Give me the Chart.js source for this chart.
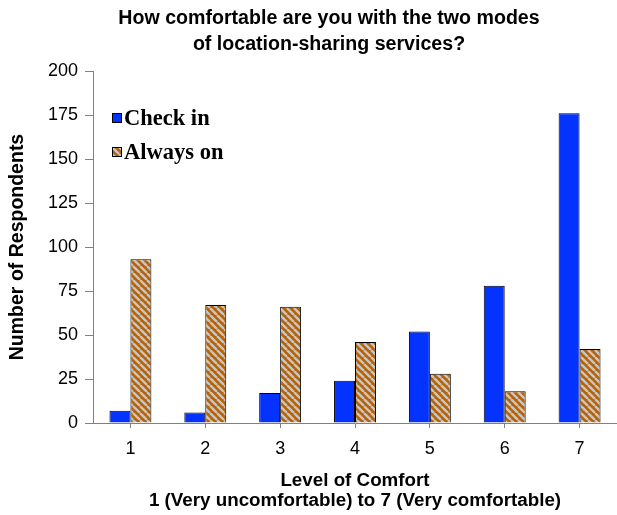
<!DOCTYPE html>
<html>
<head>
<meta charset="utf-8">
<style>
  html, body { margin: 0; padding: 0; background: #fff; }
</style>
<script src="https://cdn.jsdelivr.net/npm/chart.js@4"></script>
</head>
<body>
<canvas id="comfortChart" width="617" height="515"></canvas>
<script>
const comfortLevels = ["1", "2", "3", "4", "5", "6", "7"];
const checkInCounts = [7, 6, 17, 24, 52, 78, 176];
const alwaysOnCounts = [93, 67, 66, 46, 28, 18, 42];
const seriesNames = ["Check in", "Always on"];
const chartTitle = ["How comfortable are you with the two modes", "of location-sharing services?"];
const xTitle = ["Level of Comfort", "1 (Very uncomfortable) to 7 (Very comfortable)"];
const yTitle = "Number of Respondents";

const canvas = document.getElementById("comfortChart");
const ctx = canvas.getContext("2d");

// orange / grey diagonal hatch for the "Always on" bars
function stripes() {
  const n = 7;
  const tile = document.createElement("canvas");
  tile.width = n;
  tile.height = n;
  const g = tile.getContext("2d");
  g.fillStyle = "#b5620a";
  g.fillRect(0, 0, n, n);
  g.strokeStyle = "#c9c6c0";
  g.lineWidth = 2.4;
  g.beginPath();
  for (let k = -n; k <= n; k += n) {
    g.moveTo(k, 0);
    g.lineTo(k + n, n);
  }
  g.stroke();
  return ctx.createPattern(tile, "repeat");
}

const titlePlugin = {
  id: "twoLineTitle",
  afterDraw(chart) {
    const c = chart.ctx;
    c.save();
    c.font = "bold 19.6px 'Liberation Sans', Arial, sans-serif";
    c.fillStyle = "#000";
    c.textAlign = "center";
    c.textBaseline = "middle";
    c.fillText(chartTitle[0], 329, 19);
    c.fillText(chartTitle[1], 329, 45);
    c.restore();
  }
};

const insideLegend = {
  id: "insideLegend",
  afterDatasetsDraw(chart) {
    const c = chart.ctx;
    const area = chart.chartArea;
    c.save();
    chart.data.datasets.forEach((ds, i) => {
      const x = area.left + 19;
      const y = area.top + 47 + i * 34;
      c.fillStyle = ds.backgroundColor;
      c.fillRect(x, y - 5, 10, 10);
      c.strokeStyle = "#000";
      c.lineWidth = 1;
      c.strokeRect(x + 0.5, y - 4.5, 9, 9);
      c.font = "bold 22.5px 'Liberation Serif', 'Times New Roman', serif";
      c.fillStyle = "#000";
      c.textBaseline = "middle";
      c.fillText(ds.label, x + 12, y + 1);
    });
    c.restore();
  }
};

new Chart(canvas, {
  type: "bar",
  data: {
    labels: comfortLevels,
    datasets: [
      {
        label: seriesNames[0],
        data: checkInCounts,
        backgroundColor: "#0433ff",
        borderColor: "#000",
        borderWidth: 1
      },
      {
        label: seriesNames[1],
        data: alwaysOnCounts,
        backgroundColor: stripes(),
        borderColor: "#000",
        borderWidth: 1
      }
    ]
  },
  options: {
    responsive: false,
    animation: false,
    events: [],
    barPercentage: 1,
    categoryPercentage: 0.56,
    layout: { padding: { top: 71, right: 0, bottom: 0, left: 0 } },
    plugins: {
      legend: { display: false },
      title: { display: false },
      tooltip: { enabled: false }
    },
    scales: {
      x: {
        afterFit(scale) { scale.height = 92; },
        grid: { drawOnChartArea: false, offset: false, tickLength: 5, color: "#808080" },
        border: { color: "#808080", width: 1 },
        ticks: { color: "#000", padding: 10, font: { family: "'Liberation Sans', Arial", size: 18 } },
        title: {
          display: true,
          text: xTitle,
          color: "#000",
          padding: { top: 0, bottom: 4 },
          font: { family: "'Liberation Sans', Arial", size: 18.8, weight: "bold", lineHeight: 1.07 }
        }
      },
      y: {
        min: 0,
        max: 200,
        afterFit(scale) { scale.width = 93; },
        grid: { drawOnChartArea: false, tickLength: 8, color: "#808080" },
        border: { color: "#808080", width: 1 },
        ticks: { stepSize: 25, color: "#000", padding: 7, font: { family: "'Liberation Sans', Arial", size: 18 } },
        title: {
          display: true,
          text: yTitle,
          color: "#000",
          padding: { top: 6, bottom: 0 },
          font: { family: "'Liberation Sans', Arial", size: 19.5, weight: "bold" }
        }
      }
    }
  },
  plugins: [titlePlugin, insideLegend]
});
</script>
</body>
</html>
